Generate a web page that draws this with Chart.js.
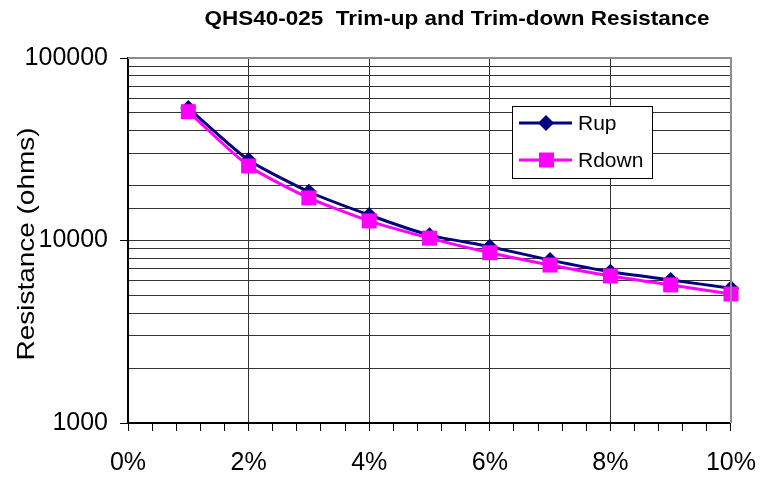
<!DOCTYPE html>
<html>
<head>
<meta charset="utf-8">
<script src="https://cdn.jsdelivr.net/npm/chart.js@4.4.1/dist/chart.umd.min.js"></script>
<style>
    html, body { margin: 0; padding: 0; background: #fff; }
    #wrap { width: 773px; height: 479px; }
</style>
</head>
<body>
<div id="wrap"><canvas id="trimChart" width="773" height="479"></canvas></div>
<script>
// Trim percentage (x) and resistance readings (ohms)
const trimPercent = [1, 2, 3, 4, 5, 6, 7, 8, 9, 10];
const rupValues = [53200, 27600, 18500, 13800, 10700, 9250, 7810, 6740, 6080, 5470];
const rdownValues = [50800, 25600, 17100, 12800, 10300, 8570, 7340, 6390, 5710, 5090];
const xTickLabels = ['0%', '2%', '4%', '6%', '8%', '10%'];
const yTickLabels = ['1000', '10000', '100000'];
const seriesNames = ['Rup', 'Rdown'];

const chartTitle = 'QHS40-025  Trim-up and Trim-down Resistance';
const yAxisTitle = 'Resistance (ohms)';
const FONT = '"Liberation Sans", Arial, sans-serif';

function isMultipleOf(v, step) {
    return Math.abs(v / step - Math.round(v / step)) < 1e-6;
}

function isPowerOfTen(v) {
    const l = Math.log10(v);
    return Math.abs(l - Math.round(l)) < 1e-6;
}

// Draws title, axis title, plot frame and the boxed legend
const decorPlugin = {
    id: 'decor',
    afterDraw(chart) {
        const ctx = chart.ctx;
        const area = chart.chartArea;

        // gray frame on top and right
        ctx.save();
        ctx.strokeStyle = '#8c8c8c';
        ctx.lineWidth = 2;
        ctx.beginPath();
        ctx.moveTo(area.left, area.top);
        ctx.lineTo(area.right, area.top);
        ctx.lineTo(area.right, area.bottom);
        ctx.stroke();
        ctx.restore();

        // title
        ctx.save();
        ctx.fillStyle = '#000';
        ctx.font = 'bold 21px ' + FONT;
        ctx.textAlign = 'center';
        ctx.textBaseline = 'middle';
        let w = ctx.measureText(chartTitle).width;
        ctx.translate(457, 19);
        ctx.scale(505 / w, 1);
        ctx.fillText(chartTitle, 0, 0);
        ctx.restore();

        // y axis title
        ctx.save();
        ctx.fillStyle = '#000';
        ctx.font = '24px ' + FONT;
        ctx.textAlign = 'center';
        ctx.textBaseline = 'middle';
        w = ctx.measureText(yAxisTitle).width;
        ctx.translate(27, 244);
        ctx.rotate(-Math.PI / 2);
        ctx.scale(233 / w, 1);
        ctx.fillText(yAxisTitle, 0, 0);
        ctx.restore();

        // legend box
        const lx = 512, ly = 106, lw = 140, lh = 72;
        ctx.save();
        ctx.fillStyle = '#fff';
        ctx.fillRect(lx, ly, lw, lh);
        ctx.strokeStyle = '#000';
        ctx.lineWidth = 1;
        ctx.strokeRect(lx + 0.5, ly + 0.5, lw, lh);

        const rows = [
            { y: 123, color: '#000080', shape: 'diamond' },
            { y: 160, color: '#ff00ff', shape: 'square' }
        ];
        rows.forEach((r, i) => {
            ctx.strokeStyle = r.color;
            ctx.lineWidth = 3;
            ctx.beginPath();
            ctx.moveTo(519, r.y);
            ctx.lineTo(572, r.y);
            ctx.stroke();
            ctx.fillStyle = r.color;
            ctx.beginPath();
            if (r.shape === 'diamond') {
                ctx.moveTo(546, r.y - 8);
                ctx.lineTo(554, r.y);
                ctx.lineTo(546, r.y + 8);
                ctx.lineTo(538, r.y);
                ctx.closePath();
            } else {
                ctx.rect(539, r.y - 7.5, 15, 15);
            }
            ctx.fill();
            ctx.fillStyle = '#000';
            ctx.font = '21px ' + FONT;
            ctx.textAlign = 'left';
            ctx.textBaseline = 'middle';
            ctx.fillText(seriesNames[i], 578, r.y + 1);
        });
        ctx.restore();
    }
};

const ctx = document.getElementById('trimChart').getContext('2d');
const trimChart = new Chart(ctx, {
    type: 'line',
    data: {
        datasets: [
            {
                label: seriesNames[0],
                data: trimPercent.map((x, i) => ({ x: x, y: rupValues[i] })),
                borderColor: '#000080',
                backgroundColor: '#000080',
                borderWidth: 3,
                pointStyle: 'rectRot',
                pointRadius: 8,
                pointHoverRadius: 8,
                pointBorderWidth: 0,
                tension: 0.2,
                clip: false,
                order: 1
            },
            {
                label: seriesNames[1],
                data: trimPercent.map((x, i) => ({ x: x, y: rdownValues[i] })),
                borderColor: '#ff00ff',
                backgroundColor: '#ff00ff',
                borderWidth: 3,
                pointStyle: 'rect',
                pointRadius: 10.6,
                pointHoverRadius: 10.6,
                pointBorderWidth: 0,
                tension: 0.2,
                clip: false,
                order: 0
            }
        ]
    },
    options: {
        responsive: false,
        animation: false,
        devicePixelRatio: 1,
        layout: {
            padding: { left: 0, top: 58, right: 42, bottom: 0 }
        },
        plugins: {
            legend: { display: false },
            title: { display: false },
            tooltip: { enabled: false }
        },
        scales: {
            x: {
                type: 'linear',
                min: 0,
                max: 10,
                afterFit(scale) { scale.height = 56; },
                border: { color: '#000', width: 2 },
                grid: {
                    color: (c) => (c.tick && isMultipleOf(c.tick.value, 2)) ? '#333' : 'rgba(0,0,0,0)',
                    tickColor: '#000',
                    tickLength: 8,
                    lineWidth: 1
                },
                ticks: {
                    stepSize: 0.4,
                    autoSkip: false,
                    maxRotation: 0,
                    padding: 17,
                    color: '#000',
                    font: { family: FONT, size: 25 },
                    callback: (v) => isMultipleOf(v, 2) ? xTickLabels[Math.round(v / 2)] : ''
                }
            },
            y: {
                type: 'logarithmic',
                min: 1000,
                max: 100000,
                afterFit(scale) { scale.width = 128; },
                border: { color: '#000', width: 2 },
                grid: {
                    color: '#333',
                    tickColor: (c) => (c.tick && isPowerOfTen(c.tick.value)) ? '#000' : 'rgba(0,0,0,0)',
                    tickLength: 8,
                    lineWidth: 1
                },
                ticks: {
                    autoSkip: false,
                    padding: 12,
                    color: '#000',
                    font: { family: FONT, size: 25 },
                    callback: (v) => isPowerOfTen(v) ? yTickLabels[Math.round(Math.log10(v)) - 3] : ''
                }
            }
        }
    },
    plugins: [decorPlugin]
});
</script>
</body>
</html>
